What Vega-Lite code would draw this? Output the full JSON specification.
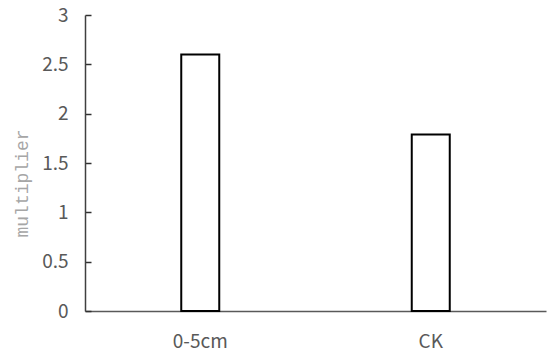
{
  "$schema": "https://vega.github.io/schema/vega-lite/v6.json",
  "autosize": "none",
  "width": 461,
  "height": 296,
  "padding": {"left": 85, "top": 15, "right": 4, "bottom": 46},
  "background": "white",
  "config": {"view": {"stroke": null}},
  "data": {"values": [
    {"group": "0-5cm", "multiplier": 2.6},
    {"group": "CK", "multiplier": 1.79}
  ]},
  "mark": {"type": "bar", "fill": "white", "stroke": "black", "strokeWidth": 2, "size": 38},
  "encoding": {
    "x": {"field": "group", "type": "nominal", "sort": null,
      "scale": {"paddingInner": 0, "paddingOuter": 0},
      "axis": {"title": null, "labelAngle": 0, "ticks": false, "domainColor": "#595959", "domainWidth": 1.5,
        "labelFont": "Noto Sans CJK SC", "labelFontSize": 19, "labelColor": "#595959", "labelPadding": 21}},
    "y": {"field": "multiplier", "type": "quantitative",
      "scale": {"domain": [0, 3], "nice": false},
      "axis": {"title": "multiplier", "values": [0, 0.5, 1, 1.5, 2, 2.5, 3], "format": "~g",
        "grid": false,
        "ticks": true, "tickSize": -6, "tickColor": "#303030", "tickWidth": 1.5,
        "domainColor": "#404040", "domainWidth": 1.5,
        "labelFont": "Noto Sans CJK SC", "labelFontSize": 19, "labelColor": "#595959", "labelPadding": 23,
        "titleFont": "Liberation Mono", "titleFontSize": 18, "titleFontWeight": "normal", "titleColor": "#a6a6a6", "titlePadding": 10, "titleY": 168}}
  }
}
